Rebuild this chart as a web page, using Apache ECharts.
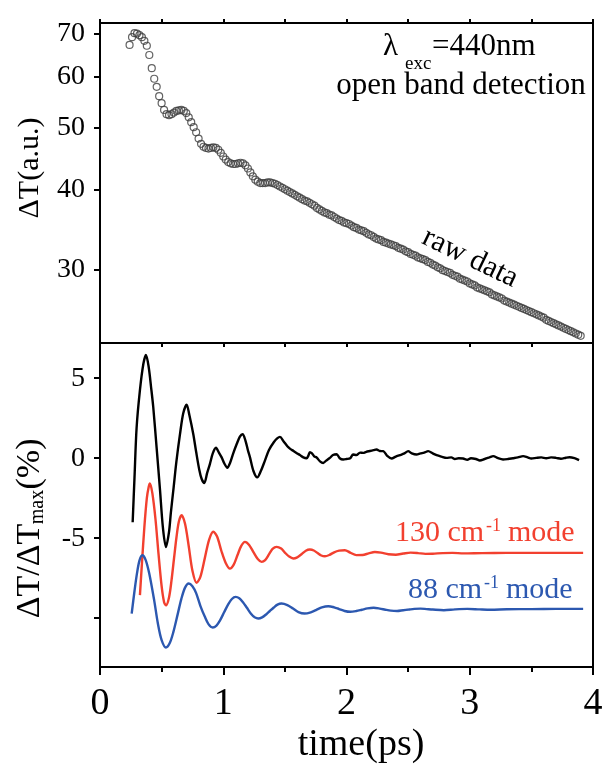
<!DOCTYPE html>
<html>
<head>
<meta charset="utf-8">
<script src="https://cdn.jsdelivr.net/npm/echarts@6/dist/echarts.min.js"></script>
<style>
  html, body { margin: 0; padding: 0; background: #fff; }
  #chart { width: 605px; height: 766px; }
</style>
</head>
<body>
<div id="chart"></div>
<script>
// raw ΔT (a.u.), open circles, top panel
const rawData = [
  [0.24,67.3],[0.26,69.2],[0.28,70.2],[0.30,70.1],[0.32,69.7],[0.34,69.2],[0.36,68.3],[0.38,67.1],
  [0.40,64.9],[0.42,61.9],[0.44,59.6],[0.46,57.9],[0.48,56.0],[0.50,54.6],[0.52,53.3],[0.54,52.5],
  [0.56,52.3],[0.58,52.5],[0.60,52.8],[0.62,53.1],[0.64,53.2],[0.66,53.3],[0.68,53.1],[0.70,52.7],
  [0.72,51.9],[0.74,51.0],[0.76,50.1],[0.78,49.2],[0.80,48.1],[0.82,47.2],[0.84,46.7],[0.86,46.5],
  [0.88,46.4],[0.90,46.5],[0.92,46.6],[0.94,46.5],[0.96,46.2],[0.98,45.7],[1.00,45.1],[1.02,44.6],
  [1.04,44.2],[1.06,44.0],[1.08,43.9],[1.10,43.9],[1.12,44.0],[1.14,44.1],[1.16,44.0],[1.18,43.7],
  [1.20,43.2],[1.22,42.6],[1.24,42.0],[1.26,41.5],[1.28,41.2],[1.30,41.0],[1.32,41.0],[1.34,41.0],
  [1.36,41.1],[1.38,41.1],[1.40,41.0],[1.42,40.9],[1.44,40.7],[1.46,40.5],[1.48,40.3],[1.50,40.1],
  [1.52,39.9],[1.54,39.7],[1.56,39.5],[1.58,39.3],[1.60,39.1],[1.62,38.9],[1.64,38.7],[1.66,38.5],
  [1.68,38.4],[1.70,38.2],[1.72,38.0],[1.74,37.8],[1.76,37.5],[1.78,37.3],[1.80,37.1],[1.82,36.9],
  [1.84,36.8],[1.86,36.6],[1.88,36.5],[1.90,36.3],[1.92,36.1],[1.94,35.9],[1.96,35.8],[1.98,35.6],
  [2.00,35.5],[2.02,35.4],[2.04,35.2],[2.06,35.0],[2.08,34.9],[2.10,34.7],[2.12,34.6],[2.14,34.5],
  [2.16,34.3],[2.18,34.1],[2.20,34.0],[2.22,33.8],[2.24,33.6],[2.26,33.5],[2.28,33.4],[2.30,33.2],
  [2.32,33.1],[2.34,33.0],[2.36,32.9],[2.38,32.8],[2.40,32.7],[2.42,32.5],[2.44,32.4],[2.46,32.3],
  [2.48,32.1],[2.50,32.0],[2.52,31.8],[2.54,31.7],[2.56,31.6],[2.58,31.4],[2.60,31.3],[2.62,31.2],
  [2.64,31.1],[2.66,30.9],[2.68,30.8],[2.70,30.6],[2.72,30.5],[2.74,30.3],[2.76,30.2],[2.78,30.0],
  [2.80,29.9],[2.82,29.8],[2.84,29.7],[2.86,29.5],[2.88,29.4],[2.90,29.3],[2.92,29.1],[2.94,29.0],
  [2.96,28.9],[2.98,28.8],[3.00,28.6],[3.02,28.5],[3.04,28.4],[3.06,28.2],[3.08,28.1],[3.10,28.0],
  [3.12,27.9],[3.14,27.8],[3.16,27.7],[3.18,27.5],[3.20,27.4],[3.22,27.3],[3.24,27.2],[3.26,27.1],
  [3.28,26.9],[3.30,26.8],[3.32,26.7],[3.34,26.6],[3.36,26.5],[3.38,26.4],[3.40,26.3],[3.42,26.2],
  [3.44,26.1],[3.46,26.0],[3.48,25.9],[3.50,25.8],[3.52,25.7],[3.54,25.6],[3.56,25.5],[3.58,25.4],
  [3.60,25.3],[3.62,25.1],[3.64,25.0],[3.66,24.9],[3.68,24.8],[3.70,24.7],[3.72,24.6],[3.74,24.5],
  [3.76,24.4],[3.78,24.3],[3.80,24.2],[3.82,24.1],[3.84,24.0],[3.86,23.9],[3.88,23.8],[3.90,23.7]
]

// oscillatory part (%), black
const residualData = [
  [0.265,-4.0],[0.28,-1.2],[0.297,1.9],[0.324,4.25],[0.352,5.9],[0.373,6.45],[0.395,5.7],[0.415,4.4],
  [0.432,3.2],[0.46,0.6],[0.487,-2.0],[0.51,-4.3],[0.535,-5.55],[0.56,-4.6],[0.575,-3.4],[0.595,-2.0],
  [0.62,-0.2],[0.649,1.5],[0.675,2.8],[0.703,3.35],[0.725,2.7],[0.757,1.5],[0.78,0.4],[0.805,-0.7],
  [0.825,-1.3],[0.846,-1.55],[0.87,-0.9],[0.892,-0.35],[0.915,0.3],[0.941,0.65],[0.965,0.35],[0.987,0.05],
  [1.01,-0.35],[1.033,-0.6],[1.055,-0.3],[1.081,0.3],[1.11,0.9],[1.135,1.35],[1.157,1.5],[1.18,1.1],
  [1.2,0.5],[1.217,0.05],[1.245,-0.8],[1.276,-1.2],[1.305,-0.8],[1.338,-0.15],[1.37,0.5],[1.41,1.0],
  [1.44,1.25],[1.46,1.33],[1.49,1.05],[1.52,0.75],[1.541,0.6],[1.57,0.45],[1.6,0.3],[1.622,0.2],
  [1.65,0.05],[1.676,0.0],[1.69,0.15],[1.703,0.38],[1.72,0.3],[1.74,0.1],[1.757,0.05],[1.785,-0.2],
  [1.811,-0.3],[1.835,-0.15],[1.865,0.02],[1.89,0.2],[1.92,0.25],[1.945,0.0],[1.973,-0.08],[2.0,-0.05],
  [2.03,0.0],[2.054,0.23],[2.08,0.2],[2.11,0.35],[2.135,0.33],[2.16,0.4],[2.19,0.45],[2.22,0.5],
  [2.244,0.54],[2.27,0.45],[2.298,0.44],[2.33,0.15],[2.366,-0.02],[2.4,0.1],[2.433,0.19],[2.47,0.3],
  [2.5,0.44],[2.53,0.3],[2.568,0.23],[2.6,0.3],[2.63,0.35],[2.663,0.44],[2.7,0.3],[2.731,0.19],
  [2.77,0.1],[2.812,0.02],[2.85,0.05],[2.88,-0.05],[2.91,0.0],[2.946,-0.02],[2.98,-0.1],[3.01,0.0],
  [3.05,-0.05],[3.082,-0.14],[3.12,-0.05],[3.16,0.05],[3.19,0.13],[3.23,0.0],[3.27,-0.08],[3.31,-0.05],
  [3.35,0.0],[3.39,0.05],[3.433,0.13],[3.47,0.05],[3.5,-0.02],[3.54,0.02],[3.58,0.05],[3.62,0.0],
  [3.66,0.05],[3.7,0.02],[3.74,-0.03],[3.78,0.03],[3.81,0.06],[3.85,0.0],[3.887,-0.12]
]

// 130 cm-1 mode, red
const mode130Data = [
  [0.324,-8.56],[0.34,-6.6],[0.36,-4.3],[0.38,-2.5],[0.395,-1.8],[0.405,-1.58],[0.425,-2.2],[0.45,-3.8],
  [0.475,-6.0],[0.5,-8.0],[0.52,-9.0],[0.535,-9.2],[0.56,-8.7],[0.58,-7.65],[0.6,-6.3],[0.62,-4.97],
  [0.64,-3.96],[0.662,-3.56],[0.69,-4.1],[0.72,-5.5],[0.75,-7.03],[0.784,-7.79],[0.815,-7.4],[0.85,-6.26],
  [0.885,-5.1],[0.919,-4.6],[0.95,-4.89],[0.985,-5.8],[1.02,-6.55],[1.054,-6.9],[1.085,-6.65],[1.115,-6.07],
  [1.145,-5.5],[1.176,-5.23],[1.21,-5.42],[1.245,-5.87],[1.28,-6.3],[1.311,-6.48],[1.34,-6.37],[1.372,-6.0],
  [1.4,-5.67],[1.433,-5.54],[1.47,-5.65],[1.5,-5.9],[1.535,-6.15],[1.568,-6.27],[1.6,-6.2],[1.635,-6.0],
  [1.67,-5.78],[1.703,-5.71],[1.735,-5.77],[1.765,-5.93],[1.795,-6.08],[1.825,-6.13],[1.86,-6.05],[1.9,-5.88],
  [1.94,-5.78],[1.987,-5.75],[2.03,-5.9],[2.08,-6.06],[2.13,-6.05],[2.18,-5.95],[2.23,-5.86],[2.28,-5.9],
  [2.34,-6.0],[2.4,-6.03],[2.46,-5.96],[2.52,-5.9],[2.58,-5.93],[2.64,-5.98],[2.7,-5.97],[2.78,-5.93],
  [2.86,-5.92],[2.95,-5.95],[3.1,-5.93],[3.3,-5.92],[3.6,-5.92],[3.92,-5.92]
]

// 88 cm-1 mode, blue
const mode88Data = [
  [0.257,-9.71],[0.28,-8.3],[0.30,-7.2],[0.32,-6.4],[0.343,-6.06],[0.37,-6.35],[0.40,-7.22],[0.44,-8.9],
  [0.47,-10.35],[0.50,-11.37],[0.535,-11.83],[0.565,-11.57],[0.595,-10.87],[0.63,-9.76],[0.66,-8.79],[0.69,-8.09],
  [0.72,-7.83],[0.75,-8.0],[0.78,-8.43],[0.815,-9.24],[0.85,-9.9],[0.88,-10.37],[0.914,-10.58],[0.945,-10.46],
  [0.975,-10.12],[1.007,-9.63],[1.04,-9.13],[1.07,-8.8],[1.1,-8.67],[1.13,-8.75],[1.16,-9.0],[1.192,-9.35],
  [1.225,-9.72],[1.255,-9.94],[1.284,-10.02],[1.315,-9.95],[1.35,-9.75],[1.378,-9.55],[1.41,-9.33],[1.44,-9.15],
  [1.473,-9.08],[1.52,-9.18],[1.566,-9.4],[1.61,-9.62],[1.66,-9.71],[1.71,-9.63],[1.756,-9.48],[1.80,-9.32],
  [1.852,-9.25],[1.9,-9.32],[1.94,-9.43],[1.985,-9.55],[2.03,-9.6],[2.08,-9.55],[2.125,-9.47],[2.17,-9.39],
  [2.22,-9.35],[2.27,-9.4],[2.315,-9.47],[2.36,-9.53],[2.41,-9.55],[2.46,-9.5],[2.505,-9.46],[2.55,-9.42],
  [2.6,-9.4],[2.65,-9.43],[2.7,-9.46],[2.79,-9.5],[2.88,-9.45],[2.98,-9.42],[3.08,-9.45],[3.17,-9.47],
  [3.3,-9.44],[3.5,-9.43],[3.7,-9.42],[3.92,-9.42]
]

const timeTicks = [0, 1, 2, 3, 4]
const halfTicks = [0.5, 1.5, 2.5, 3.5]
const edgeTicks = [0, 0.5, 1, 1.5, 2, 2.5, 3, 3.5, 4]
const topTicks = [30, 40, 50, 60, 70]
const bottomTicks = [-10, -5, 0, 5]
const bottomLabels = [-5, 0, 5]

const serif = '"Liberation Serif", "DejaVu Serif", serif'
const black = '#000'
const red = '#f2402f'
const blue = '#2c58b0'

const chart = echarts.init(document.getElementById('chart'))

const frameLine = { show: true, onZero: false, lineStyle: { color: black, width: 2 } }
const tickStyle = { color: black, width: 2 }

// x axis that only carries ticks
function tickX(gridIndex, position, values, length, line) {
  return {
    type: 'value', gridIndex, position, min: 0, max: 4,
    axisLine: line ? frameLine : { show: false, onZero: false },
    axisTick: { show: true, customValues: values, length, lineStyle: tickStyle },
    axisLabel: { show: false },
    splitLine: { show: false }
  }
}

function rightY(gridIndex, type, min, max) {
  return {
    type, gridIndex, position: 'right', min, max,
    axisLine: frameLine,
    axisTick: { show: false }, axisLabel: { show: false },
    splitLine: { show: false }, minorTick: { show: false }
  }
}

function txt(text, x, y, size, opts) {
  opts = opts || {}
  return {
    type: 'text', x, y, rotation: opts.rotation || 0, silent: true,
    style: {
      text, fill: opts.color || black,
      font: size + 'px ' + serif,
      align: opts.align || 'left', verticalAlign: 'middle'
    }
  }
}

const option = {
  animation: false,
  backgroundColor: '#fff',
  grid: [
    { left: 100, right: 12, top: 23, height: 320, outerBoundsMode: 'none' },
    { left: 100, right: 12, top: 343, height: 324, outerBoundsMode: 'none' }
  ],
  xAxis: [
    tickX(0, 'top', edgeTicks, 4, true),
    tickX(0, 'bottom', edgeTicks, 4, true),
    {
      type: 'value', gridIndex: 1, position: 'bottom', min: 0, max: 4,
      axisLine: frameLine,
      axisTick: { show: true, customValues: timeTicks, length: 8, lineStyle: tickStyle },
      axisLabel: { customValues: timeTicks, fontFamily: serif, fontSize: 38, color: black, margin: 18 },
      splitLine: { show: false }
    },
    tickX(1, 'bottom', halfTicks, 5, false)
  ],
  yAxis: [
    {
      type: 'log', logBase: 10, gridIndex: 0, position: 'left', min: 23.1, max: 72.8,
      axisLine: frameLine,
      axisTick: { show: true, customValues: topTicks, length: 6, lineStyle: tickStyle },
      axisLabel: { customValues: topTicks, fontFamily: serif, fontSize: 28, color: black, margin: 15 },
      splitLine: { show: false }, minorTick: { show: false }
    },
    {
      type: 'value', gridIndex: 1, position: 'left', min: -13.05, max: 7.2,
      axisLine: frameLine,
      axisTick: { show: true, customValues: bottomTicks, length: 6, lineStyle: tickStyle },
      axisLabel: { customValues: bottomLabels, fontFamily: serif, fontSize: 28, color: black, margin: 15 },
      splitLine: { show: false }
    },
    rightY(0, 'log', 23.1, 72.8),
    rightY(1, 'value', -13.05, 7.2)
  ],
  series: [
    {
      name: 'raw data', type: 'scatter', xAxisIndex: 0, yAxisIndex: 0,
      data: rawData, symbol: 'circle', symbolSize: 7,
      itemStyle: { color: 'rgba(0,0,0,0)', borderColor: '#3c3c3c', borderWidth: 1.2 }
    },
    {
      name: 'oscillation', type: 'line', xAxisIndex: 2, yAxisIndex: 1, data: residualData,
      showSymbol: false, smooth: 0.3, lineStyle: { color: black, width: 2.4 }
    },
    {
      name: '130 cm-1 mode', type: 'line', xAxisIndex: 2, yAxisIndex: 1, data: mode130Data,
      showSymbol: false, smooth: 0.3, lineStyle: { color: red, width: 2.4 }
    },
    {
      name: '88 cm-1 mode', type: 'line', xAxisIndex: 2, yAxisIndex: 1, data: mode88Data,
      showSymbol: false, smooth: 0.3, lineStyle: { color: blue, width: 2.4 }
    }
  ],
  graphic: [
    txt('λ', 383, 47, 31),
    txt('exc', 405, 64, 19),
    txt('=440nm', 432, 47, 31),
    txt('open band detection', 461, 86, 31, { align: 'center' }),
    txt('raw data', 470, 258, 30, { align: 'center', rotation: -0.45 }),
    txt('130 cm', 395, 533, 30, { color: red }),
    txt('-1', 486, 526, 18, { color: red }),
    txt('mode', 508, 533, 30, { color: red }),
    txt('88 cm', 408, 590, 30, { color: blue }),
    txt('-1', 484, 583, 18, { color: blue }),
    txt('mode', 506, 590, 30, { color: blue }),
    txt('ΔT(a.u.)', 30, 168, 30, { align: 'center', rotation: Math.PI / 2 }),
    txt('ΔT/ΔT', 30, 571, 34, { align: 'center', rotation: Math.PI / 2 }),
    txt('max', 38, 507, 20, { align: 'center', rotation: Math.PI / 2 }),
    txt('(%)', 30, 464, 34, { align: 'center', rotation: Math.PI / 2 }),
    txt('time(ps)', 361, 745, 38, { align: 'center' })
  ]
}

chart.setOption(option)
</script>
</body>
</html>
